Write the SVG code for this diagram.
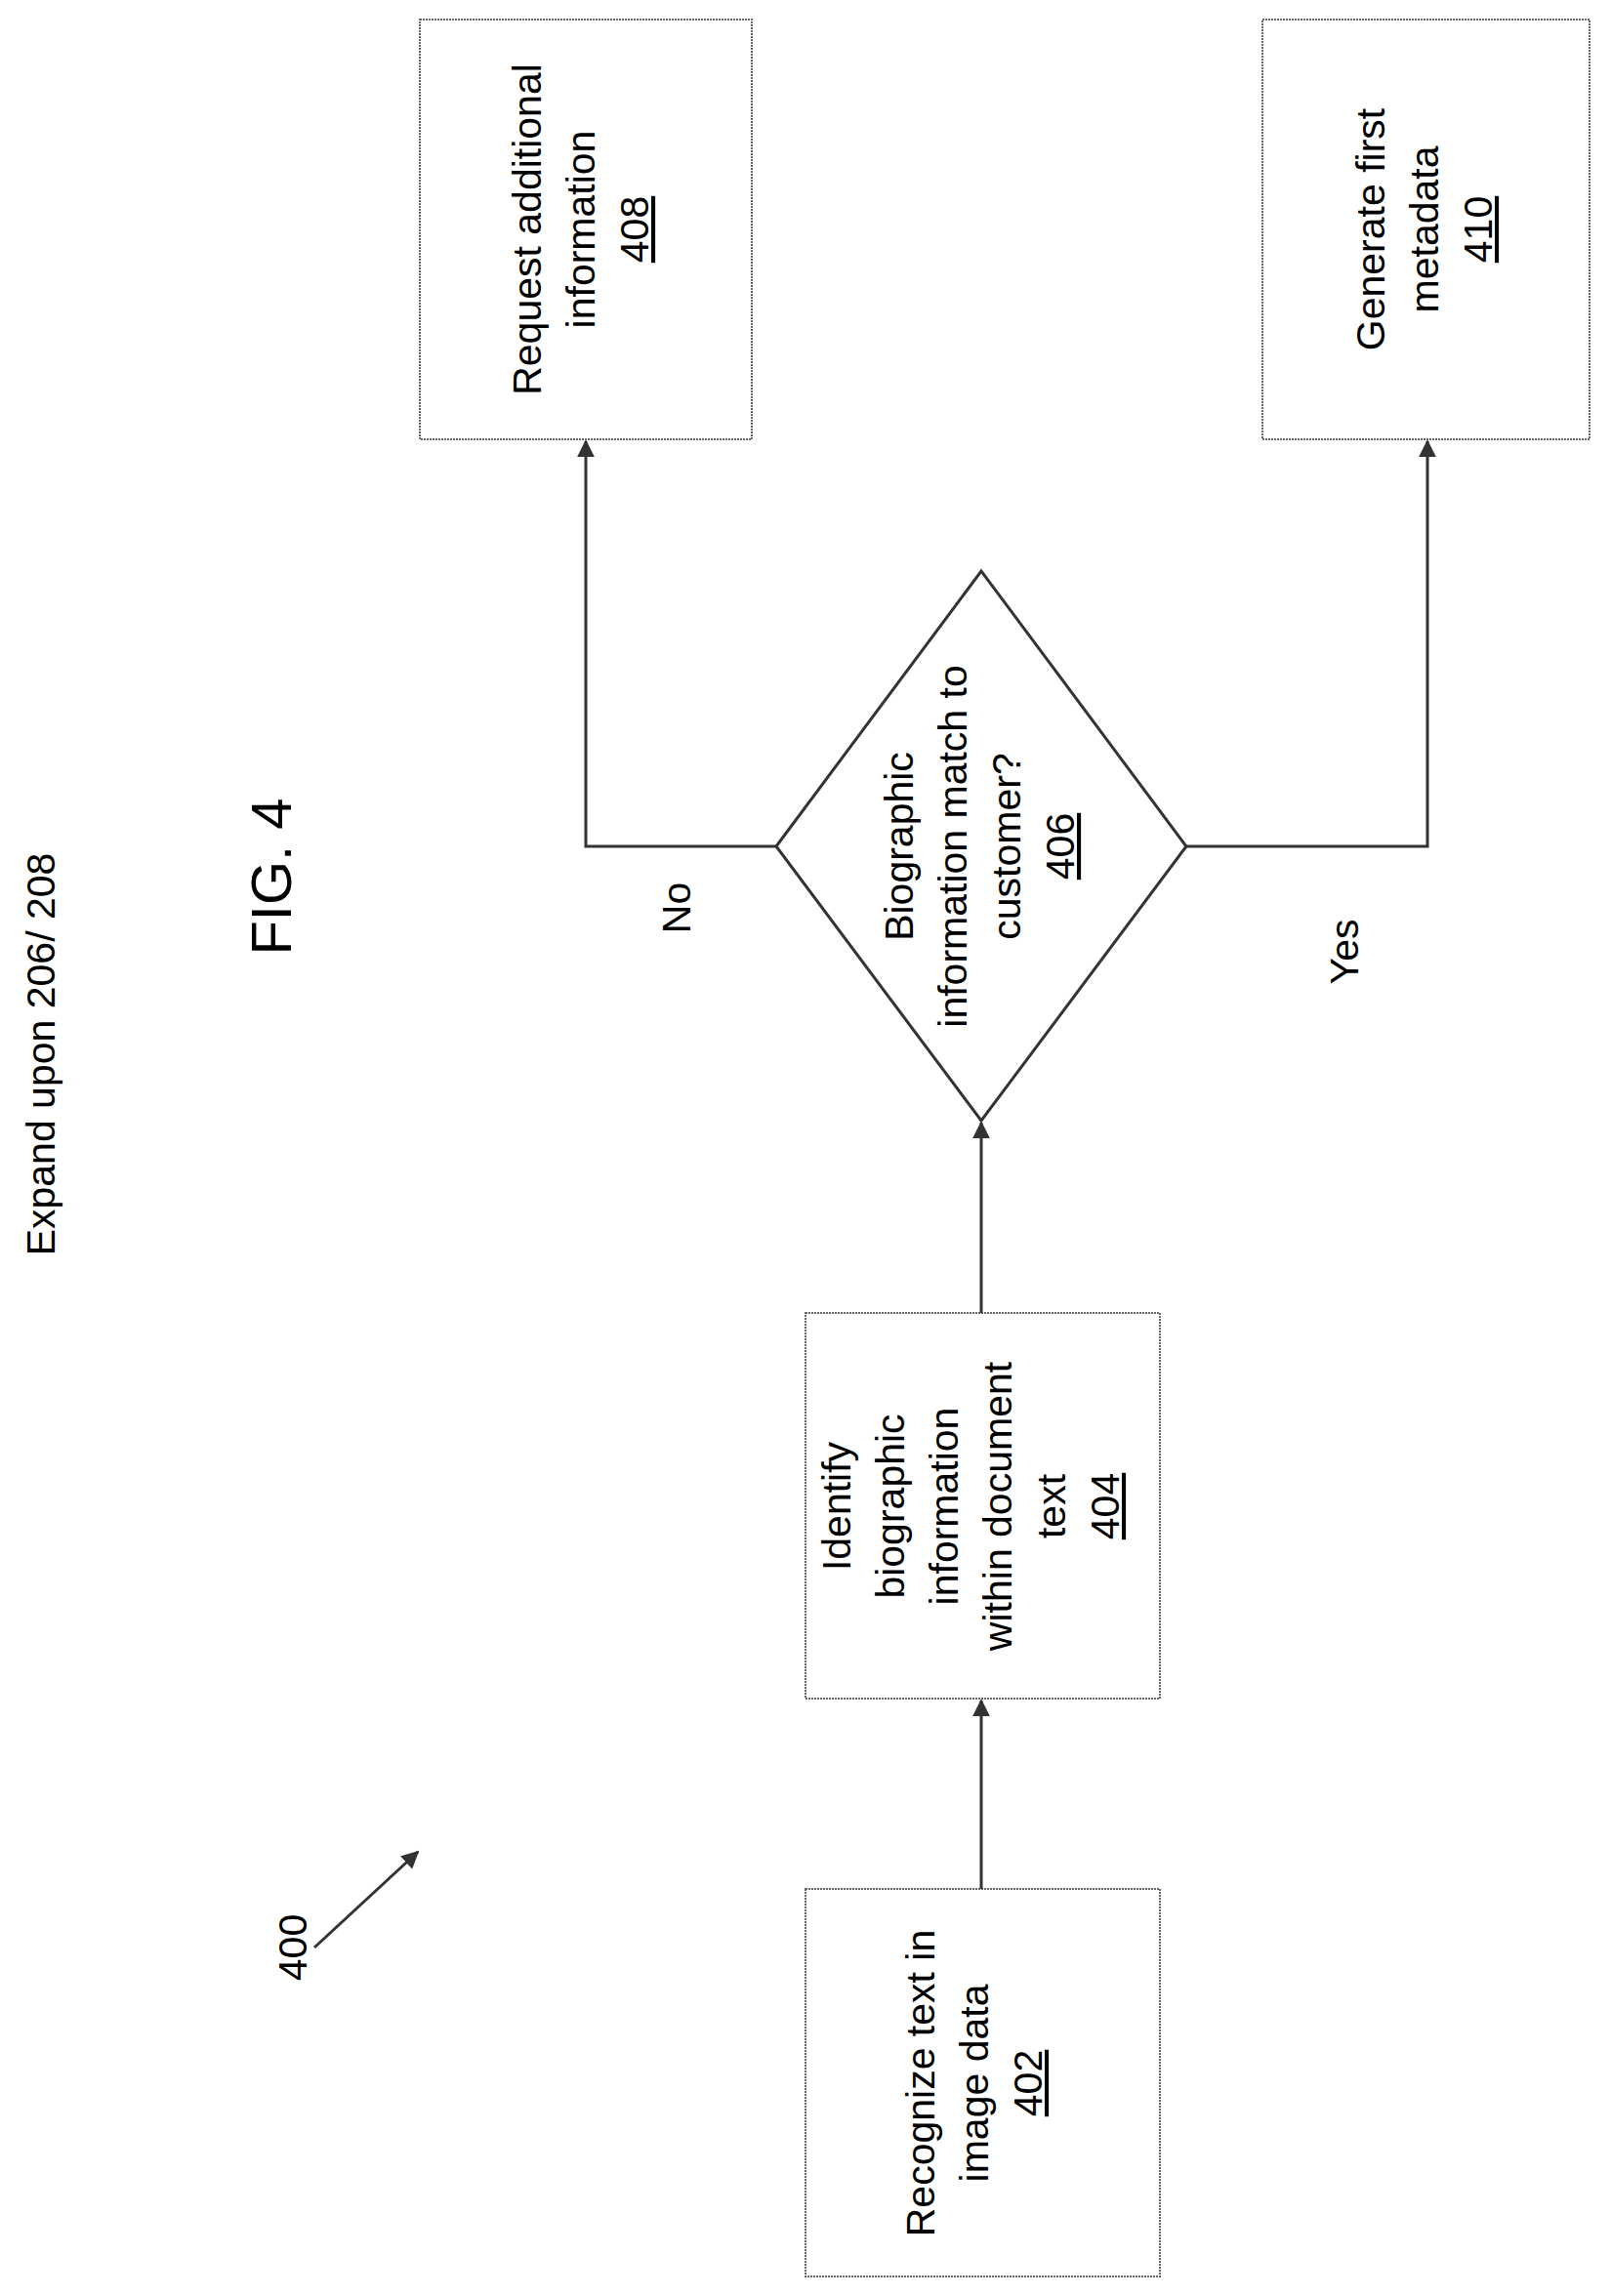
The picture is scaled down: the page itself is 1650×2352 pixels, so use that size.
<svg xmlns="http://www.w3.org/2000/svg" width="1650" height="2352" viewBox="0 0 1650 2352">
<defs>
<style>
.b{fill:#fff;stroke:#666;stroke-width:2;stroke-dasharray:2 1}
.d{fill:#fff;stroke:#333;stroke-width:3}
text{font-family:"Liberation Sans",Arial,sans-serif;font-size:41px;fill:#000;text-anchor:middle}
.u{text-decoration:underline}
.c{fill:none;stroke:#333;stroke-width:3}
</style>
<marker id="a" viewBox="0 0 10 10" refX="9" refY="5" markerWidth="6" markerHeight="6" orient="auto"><path d="M0,0L10,5L0,10z" fill="#333"/></marker>
</defs>
<rect width="1650" height="2352" fill="#fff"/>
<g transform="translate(42,1080) rotate(-90)"><text dy="14">Expand upon 206/ 208</text></g>
<g transform="translate(278,898) rotate(-90)"><text dy="20" style="font-size:58px">FIG. 4</text></g>
<g transform="translate(300,1995) rotate(-90)"><text dy="14">400</text></g>
<line class="c" x1="322" y1="1995" x2="428" y2="1897" marker-end="url(#a)"/>
<g id="n402"><rect class="b" x="825" y="1935" width="363" height="397"/>
<g transform="translate(997,2134) rotate(-90)"><text y="-40">Recognize text in</text><text y="15">image data</text><text y="70" class="u">402</text></g></g>
<g id="n404"><rect class="b" x="825" y="1345" width="363" height="395"/>
<g transform="translate(993,1543) rotate(-90)"><text y="-122">Identify</text><text y="-67">biographic</text><text y="-12">information</text><text y="43">within document</text><text y="98">text</text><text y="153" class="u">404</text></g></g>
<g id="n406"><polygon class="d" points="795,867 1005,585 1215,867 1005,1148"/>
<g transform="translate(1002,867) rotate(-90)"><text y="-67">Biographic</text><text y="-12">information match to</text><text y="43">customer?</text><text y="98" class="u">406</text></g></g>
<g id="n408"><rect class="b" x="430" y="20" width="340" height="430"/>
<g transform="translate(594,235) rotate(-90)"><text y="-40">Request additional</text><text y="15">information</text><text y="70" class="u">408</text></g></g>
<g id="n410"><rect class="b" x="1293" y="20" width="335" height="430"/>
<g transform="translate(1458,235) rotate(-90)"><text y="-40">Generate first</text><text y="15">metadata</text><text y="70" class="u">410</text></g></g>
<g id="connectors">
<line class="c" x1="1005" y1="1935" x2="1005" y2="1742" marker-end="url(#a)"/>
<line class="c" x1="1005" y1="1345" x2="1005" y2="1150" marker-end="url(#a)"/>
<polyline class="c" points="795,867 600,867 600,452" marker-end="url(#a)"/>
<polyline class="c" points="1215,867 1462,867 1462,452" marker-end="url(#a)"/>
</g>
<g transform="translate(693,930) rotate(-90)"><text dy="14">No</text></g>
<g transform="translate(1377,975) rotate(-90)"><text dy="14">Yes</text></g>
</svg>
